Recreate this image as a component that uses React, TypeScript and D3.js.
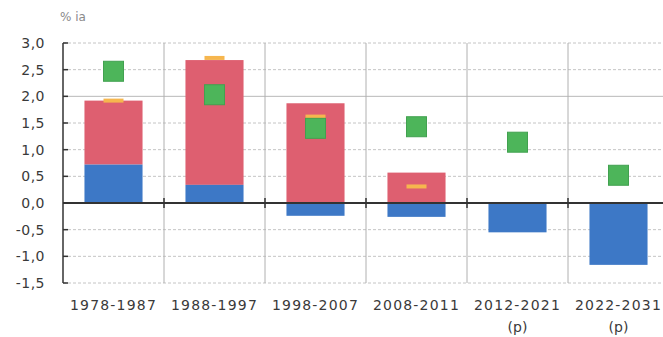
import React from "react";
import * as d3 from "d3";

const categories = ["1978-1987", "1988-1997", "1998-2007", "2008-2011", "2012-2021", "2022-2031"];
const subLabels = ["", "", "", "", "(p)", "(p)"];
const blueValues = [0.72, 0.34, -0.24, -0.26, -0.55, -1.16];
const redValues = [1.2, 2.34, 1.87, 0.57, 0, 0];
const yellowValues: (number | null)[] = [1.92, 2.72, 1.62, 0.31, null, null];
const greenValues = [2.47, 2.03, 1.4, 1.43, 1.14, 0.52];
const yTicks = [3.0, 2.5, 2.0, 1.5, 1.0, 0.5, 0.0, -0.5, -1.0, -1.5];

const W = 663;
const H = 337;
const left = 63;
const right = 669;
const top = 43;
const bottom = 283;

export default function App() {
  const x = d3.scaleBand<string>().domain(categories).range([left, right]).paddingInner(0).paddingOuter(0);
  const y = d3.scaleLinear().domain([-1.5, 3.0]).range([bottom, top]);
  const bw = x.bandwidth() * 0.575;
  const fmt = (v: number) => d3.format(".1f")(v).replace(".", ",").replace("−", "-");
  const font = "'DejaVu Sans', Verdana, sans-serif";

  return (
    <svg width={W} height={H} style={{ position: "absolute", left: 0, top: 0, background: "#fff" }}>
      <text x={60} y={21} fontFamily={font} fontSize={12} fill="#8a8a8a">% ia</text>
      {/* gridlines */}
      {yTicks.map((t) => (
        <line key={"g" + t} x1={left} x2={W} y1={y(t)} y2={y(t)}
          stroke={t === 2.0 ? "#b8b8b8" : "#c4c4c4"} strokeWidth={1}
          strokeDasharray={t === 2.0 || t === 0 ? undefined : "3,2"} />
      ))}
      {/* vertical separators */}
      {categories.slice(1).map((c) => (
        <line key={"v" + c} x1={x(c)!} x2={x(c)!} y1={top} y2={bottom} stroke="#b0b0b0" strokeWidth={1} />
      ))}
      {/* bars */}
      {categories.map((c, i) => {
        const cx = x(c)! + x.bandwidth() / 2;
        const b = blueValues[i];
        const r = redValues[i];
        const base = b > 0 ? b : 0;
        return (
          <g key={"b" + c}>
            {r > 0 && (
              <rect x={cx - bw / 2} width={bw} y={y(base + r)} height={y(base) - y(base + r)} fill="#de5f70" />
            )}
            <rect x={cx - bw / 2} width={bw} y={y(Math.max(b, 0))} height={Math.abs(y(b) - y(0))} fill="#3d78c6" />
          </g>
        );
      })}
      {/* yellow markers */}
      {categories.map((c, i) => {
        const v = yellowValues[i];
        if (v == null) return null;
        const cx = x(c)! + x.bandwidth() / 2;
        return <rect key={"y" + c} x={cx - 10} width={20} y={y(v) - 2} height={4} fill="#f6b64e" />;
      })}
      {/* green squares */}
      {categories.map((c, i) => {
        const cx = x(c)! + x.bandwidth() / 2;
        return (
          <rect key={"s" + c} x={cx - 10} y={y(greenValues[i]) - 10} width={20} height={20}
            fill="#4db55a" stroke="#42a150" strokeWidth={1} />
        );
      })}
      {/* zero line */}
      <line x1={left} x2={W} y1={y(0)} y2={y(0)} stroke="#333" strokeWidth={2} />
      {categories.slice(1).map((c) => (
        <line key={"t" + c} x1={x(c)!} x2={x(c)!} y1={y(0) - 5} y2={y(0) + 5} stroke="#333" strokeWidth={1.5} />
      ))}
      {/* left axis */}
      <line x1={left} x2={left} y1={top} y2={bottom} stroke="#333" strokeWidth={1.5} />
      {yTicks.map((t) => (
        <g key={"yt" + t}>
          <line x1={left} x2={left + 5} y1={y(t)} y2={y(t)} stroke="#333" strokeWidth={1.5} />
          <text x={45} y={y(t)} dy="0.35em" textAnchor="end" fontFamily={font} fontSize={14}
            fill="#3a3a3a" letterSpacing={0.5}>{fmt(t)}</text>
        </g>
      ))}
      {/* x labels */}
      {categories.map((c, i) => {
        const cx = x(c)! + x.bandwidth() / 2;
        return (
          <g key={"xl" + c}>
            <text x={cx} y={310} textAnchor="middle" fontFamily={font} fontSize={14} fill="#3a3a3a"
              letterSpacing={1.2}>{c}</text>
            {subLabels[i] && (
              <text x={cx} y={332} textAnchor="middle" fontFamily={font} fontSize={14} fill="#3a3a3a">{subLabels[i]}</text>
            )}
          </g>
        );
      })}
    </svg>
  );
}
